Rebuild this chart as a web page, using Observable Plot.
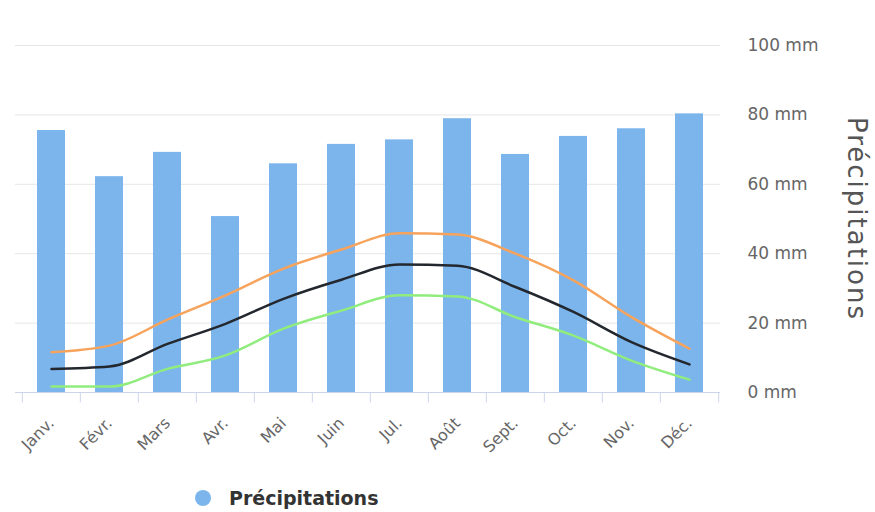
<!DOCTYPE html>
<html>
<head>
<meta charset="utf-8">
<script src="https://cdn.jsdelivr.net/npm/d3@7"></script>
<script src="https://cdn.jsdelivr.net/npm/@observablehq/plot@0.6"></script>
<style>
  html, body { margin: 0; padding: 0; background: #fff; }
  #wrap { position: relative; width: 875px; height: 512px; overflow: hidden; font-family: "DejaVu Sans", sans-serif; }
  #legend { position: absolute; left: 195px; top: 486px; height: 24px; display: flex; align-items: center; gap: 18px; }
  #legend .dot { width: 16px; height: 16px; border-radius: 50%; background: #7cb5ec; }
  #legend .lab { font-weight: bold; font-size: 19px; color: #333; }
</style>
</head>
<body>
<div id="wrap">
  <div id="chart"></div>
  <div id="legend"><span class="dot"></span><span class="lab">Précipitations</span></div>
</div>
<script>
const months = ["Janv.","Févr.","Mars","Avr.","Mai","Juin","Jul.","Août","Sept.","Oct.","Nov.","Déc."];
const precipitation = [75.5,62.2,69.2,50.7,65.9,71.5,72.8,78.9,68.6,73.8,76.0,80.3];
const tempMax = [11.6,13.5,21.0,28.0,35.7,41.2,45.9,45.5,40.0,32.3,21.7,12.6];
const tempMean = [6.8,7.5,14.0,19.8,27.0,32.5,36.9,36.5,30.4,23.2,14.5,8.1];
const tempMin = [1.7,1.7,6.8,10.7,18.4,23.6,28.0,27.7,21.7,16.4,9.2,3.7];
const yTicks = [0,20,40,60,80,100];
const axisTitle = ["Précipitations"];

const rows = months.map((m, i) => ({m, p: precipitation[i], hi: tempMax[i], mid: tempMean[i], lo: tempMin[i]}));
const lastMonth = [months[months.length - 1]];
const step = 700 / 12;

const chart = Plot.plot({
  width: 875,
  height: 475,
  marginLeft: 20,
  marginRight: 155,
  marginTop: 45,
  marginBottom: 83,
  style: {fontFamily: "'DejaVu Sans', sans-serif", color: "#666", background: "#fff"},
  x: {domain: months, paddingInner: 0.52, paddingOuter: 0.26, label: null},
  y: {domain: [0, 100], label: null},
  marks: [
    Plot.ruleY(yTicks.filter(d => d > 0), {stroke: "#e6e6e6", strokeWidth: 1, insetLeft: -5}),
    Plot.barY(rows, {x: "m", y: "p", fill: "#7cb5ec"}),
    Plot.ruleY([0], {stroke: "#ccd6eb", strokeWidth: 1, insetLeft: -5}),
    Plot.ruleX(months, {x: d => d, y1: 0, y2: -3, stroke: "#ccd6eb", dx: -step / 2}),
    Plot.ruleX(lastMonth, {x: d => d, y1: 0, y2: -3, stroke: "#ccd6eb", dx: step / 2}),
    Plot.line(rows, {x: "m", y: "hi", stroke: "#f7a35c", strokeWidth: 2.5, curve: "monotone-x"}),
    Plot.line(rows, {x: "m", y: "mid", stroke: "#23272e", strokeWidth: 2.5, curve: "monotone-x"}),
    Plot.line(rows, {x: "m", y: "lo", stroke: "#90ed7d", strokeWidth: 2.5, curve: "monotone-x"}),
    Plot.axisX({tickRotate: -45, tickSize: 0, tickPadding: 28, fontSize: 16, fill: "#666", label: null}),
    Plot.axisY({anchor: "right", ticks: yTicks, tickFormat: d => `${d} mm`, tickSize: 0, tickPadding: 27, textAnchor: "start", fontSize: 17, fill: "#666", label: null}),
    Plot.text(axisTitle, {text: d => d, frameAnchor: "right", textAnchor: "middle", dx: 136, rotate: 90, fontSize: 26, fill: "#555"})
  ]
});
d3.select(chart).selectAll("text").filter(function() { return this.textContent === axisTitle[0]; }).attr("letter-spacing", "2px");
document.getElementById("chart").appendChild(chart);
</script>
</body>
</html>
